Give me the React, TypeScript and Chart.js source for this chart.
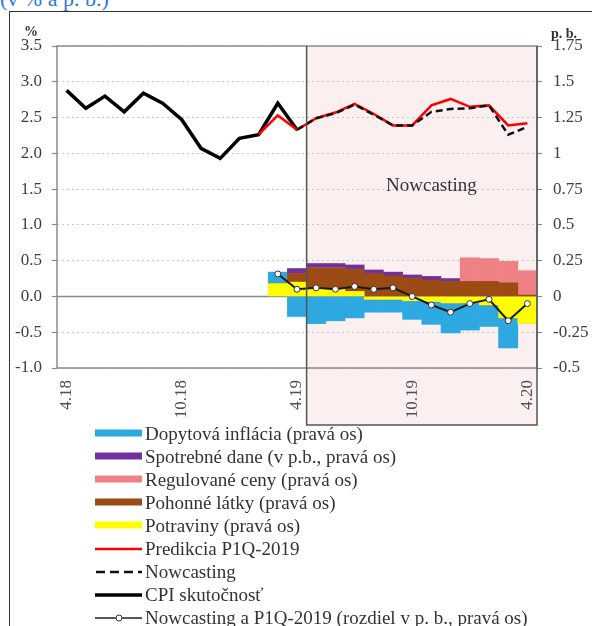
import React, { useEffect, useRef } from 'react';
import { Chart, registerables } from 'chart.js';
Chart.register(...registerables);

const categories = ['4.18','5.18','6.18','7.18','8.18','9.18','10.18','11.18','12.18','1.19','2.19','3.19','4.19','5.19','6.19','7.19','8.19','9.19','10.19','11.19','12.19','1.20','2.20','3.20','4.20'];
const xTickLabels = ['4.18','10.18','4.19','10.19','4.20'];
const leftTickLabels = ['-1.0','-0.5','0.0','0.5','1.0','1.5','2.0','2.5','3.0','3.5'];
const rightTickLabels = ['-0.5','-0.25','0','0.25','0.5','0.75','1','1.25','1.5','1.75'];
const nowcastStart = '5.19';
const nowcastTextAt = '11.19';

const N = null;
// left axis (%)
const cpiActual = [2.88,2.63,2.80,2.58,2.84,2.70,2.47,2.07,1.93,2.21,2.26,2.70,2.33,N,N,N,N,N,N,N,N,N,N,N,N];
const prediction = [N,N,N,N,N,N,N,N,N,N,2.26,2.53,2.33,2.49,2.57,2.69,2.55,2.39,2.39,2.67,2.76,2.65,2.67,2.39,2.42];
const nowcast = [N,N,N,N,N,N,N,N,N,N,N,N,2.33,2.49,2.56,2.68,2.54,2.39,2.39,2.58,2.62,2.63,2.67,2.26,2.37];
// right axis (p. b.)
const difference = [N,N,N,N,N,N,N,N,N,N,N,0.157,0.05,0.06,0.05,0.07,0.05,0.06,0.0,-0.06,-0.11,-0.05,-0.02,-0.17,-0.05];
const food = [N,N,N,N,N,N,N,N,N,N,N,0.09,0.10,0.05,0.05,0.035,-0.02,-0.02,-0.03,-0.035,-0.045,-0.045,-0.06,-0.15,-0.19];
const fuel = [N,N,N,N,N,N,N,N,N,N,N,0,0.06,0.15,0.15,0.155,0.16,0.145,0.13,0.115,0.105,0.105,0.105,0.095,0.01];
const regulated = [N,N,N,N,N,N,N,N,N,N,N,0,0,0,0,0,0,0,0,0,0,0.165,0.16,0.15,0.17];
const excise = [N,N,N,N,N,N,N,N,N,N,N,0,0.035,0.03,0.03,0.03,0.025,0.025,0.02,0.025,0.02,0,0,0,0];
const demand = [N,N,N,N,N,N,N,N,N,N,N,0.08,-0.14,-0.19,-0.17,-0.15,-0.09,-0.09,-0.13,-0.16,-0.21,-0.19,-0.15,-0.21,0];

const seriesLabels = [
  'Dopytová inflácia (pravá os)',
  'Spotrebné dane (v p.b., pravá os)',
  'Regulované ceny (pravá os)',
  'Pohonné látky (pravá os)',
  'Potraviny (pravá os)',
  'Predikcia P1Q-2019',
  'Nowcasting',
  'CPI skutočnosť',
  'Nowcasting a P1Q-2019 (rozdiel v p. b., pravá os)',
];

const C = {
  blue: '#2ea8e0',
  purple: '#7030a0',
  pink: '#ef8084',
  brown: '#9c4b14',
  yellow: '#ffff00',
  red: '#ff0000',
  black: '#000000',
};

const SERIF = '"Liberation Serif", "DejaVu Serif", serif';

const nowcastPlugin = {
  id: 'nowcastBox',
  beforeDraw(chart: any) {
    const { ctx, chartArea, scales } = chart;
    const i = categories.indexOf(nowcastStart);
    const left = (scales.x.getPixelForValue(i - 1) + scales.x.getPixelForValue(i)) / 2;
    ctx.save();
    ctx.fillStyle = '#fcefef';
    ctx.fillRect(left, chartArea.top, chartArea.right - left, chartArea.bottom + 57 - chartArea.top);
    ctx.restore();
  },
  beforeDatasetsDraw(chart: any) {
    const { ctx, chartArea, scales } = chart;
    const y0 = scales.y.getPixelForValue(0);
    ctx.save();
    ctx.strokeStyle = '#8a8a8a';
    ctx.lineWidth = 1.5;
    ctx.beginPath();
    ctx.moveTo(chartArea.left, y0);
    ctx.lineTo(chartArea.right, y0);
    ctx.stroke();
    ctx.restore();
  },
  afterDraw(chart: any) {
    const { ctx, chartArea, scales } = chart;
    ctx.save();
    ctx.strokeStyle = '#8a8a8a';
    ctx.lineWidth = 1.5;
    ctx.strokeRect(chartArea.left, chartArea.top, chartArea.right - chartArea.left, chartArea.bottom - chartArea.top);
    const i = categories.indexOf(nowcastStart);
    const left = (scales.x.getPixelForValue(i - 1) + scales.x.getPixelForValue(i)) / 2;
    const bottom = chartArea.bottom + 57;
    ctx.strokeStyle = '#555555';
    ctx.lineWidth = 1.5;
    ctx.beginPath();
    ctx.moveTo(left, chartArea.top);
    ctx.lineTo(left, bottom);
    ctx.lineTo(chartArea.right, bottom);
    ctx.lineTo(chartArea.right, chartArea.top);
    ctx.stroke();
    ctx.fillStyle = '#333333';
    ctx.font = '19px ' + SERIF;
    ctx.textAlign = 'center';
    ctx.textBaseline = 'middle';
    ctx.fillText('Nowcasting', scales.x.getPixelForValue(categories.indexOf(nowcastTextAt)), scales.y.getPixelForValue(1.55));
    ctx.restore();
  },
};

function Swatch({ kind, color }: { kind: string; color?: string }) {
  return (
    <svg width={48} height={14} style={{ position: 'absolute', left: 95, top: 4.5 }}>
      {kind === 'bar' && <rect x={0} y={3.5} width={47} height={7} fill={color} />}
      {kind === 'red' && <line x1={0} y1={7} x2={47} y2={7} stroke={C.red} strokeWidth={2.5} />}
      {kind === 'dash' && <line x1={1} y1={7} x2={47} y2={7} stroke="#111" strokeWidth={2.5} strokeDasharray="9,5" />}
      {kind === 'solid' && <line x1={0} y1={7} x2={47} y2={7} stroke="#000" strokeWidth={3.5} />}
      {kind === 'diff' && (
        <g>
          <line x1={0} y1={7} x2={47} y2={7} stroke="#222" strokeWidth={1.5} />
          <circle cx={24} cy={7} r={3} fill="#fff" stroke="#333" strokeWidth={1} />
        </g>
      )}
    </svg>
  );
}

const legendKinds = [
  { kind: 'bar', color: C.blue },
  { kind: 'bar', color: C.purple },
  { kind: 'bar', color: C.pink },
  { kind: 'bar', color: C.brown },
  { kind: 'bar', color: C.yellow },
  { kind: 'red' },
  { kind: 'dash' },
  { kind: 'solid' },
  { kind: 'diff' },
];

export default function App() {
  const ref = useRef<HTMLCanvasElement>(null);

  useEffect(() => {
    if (!ref.current) return;
    const barCommon = {
      type: 'bar' as const,
      yAxisID: 'y1',
      stack: 'contrib',
      order: 10,
      barPercentage: 1,
      categoryPercentage: 1,
      borderWidth: 0,
    };
    const lineCommon = {
      type: 'line' as const,
      pointRadius: 0,
      tension: 0,
      fill: false,
      spanGaps: false,
    };
    const chart = new Chart(ref.current, {
      type: 'bar',
      data: {
        labels: categories,
        datasets: [
          { ...lineCommon, label: seriesLabels[7], data: cpiActual, yAxisID: 'y', borderColor: C.black, borderWidth: 3.5, order: 3, stack: 'l1' },
          { ...lineCommon, label: seriesLabels[5], data: prediction, yAxisID: 'y', borderColor: C.red, borderWidth: 2.5, order: 2, stack: 'l2' },
          { ...lineCommon, label: seriesLabels[6], data: nowcast, yAxisID: 'y', borderColor: '#111', borderWidth: 2.5, borderDash: [7, 4], order: 1, stack: 'l3' },
          { ...lineCommon, label: seriesLabels[8], data: difference, yAxisID: 'y1', borderColor: '#1a1a1a', borderWidth: 2, pointRadius: 3, pointBackgroundColor: '#ffffff', pointBorderColor: '#333', pointBorderWidth: 1, order: 0, stack: 'l4' },
          { ...barCommon, label: seriesLabels[4], data: food, backgroundColor: C.yellow },
          { ...barCommon, label: seriesLabels[3], data: fuel, backgroundColor: C.brown },
          { ...barCommon, label: seriesLabels[2], data: regulated, backgroundColor: C.pink },
          { ...barCommon, label: seriesLabels[1], data: excise, backgroundColor: C.purple },
          { ...barCommon, label: seriesLabels[0], data: demand, backgroundColor: C.blue },
        ] as any,
      },
      options: {
        animation: false,
        responsive: false,
        maintainAspectRatio: false,
        layout: { padding: { top: 46, left: 0, right: 0, bottom: 0 } },
        plugins: { legend: { display: false }, tooltip: { enabled: false } },
        scales: {
          x: {
            stacked: true,
            offset: true,
            grid: { display: false, drawTicks: false },
            border: { display: false },
            ticks: {
              autoSkip: false,
              maxRotation: 90,
              minRotation: 90,
              padding: 12,
              color: '#505050',
              font: { family: SERIF, size: 17 },
              callback: (_v: any, i: number) => (xTickLabels.includes(categories[i]) ? categories[i] : ''),
            },
            afterFit: (s: any) => { s.height = 62; },
          },
          y: {
            position: 'left',
            min: -1,
            max: 3.5,
            ticks: {
              stepSize: 0.5,
              padding: 10,
              color: '#404040',
              font: { family: SERIF, size: 17 },
              callback: (_v: any, i: number) => leftTickLabels[i],
            },
            grid: { color: '#c8c8c8', lineWidth: 1, tickLength: 5, tickColor: '#8a8a8a', tickWidth: 1.2 },
            border: { display: false, dash: [2, 3] },
            afterFit: (s: any) => { s.width = 57; },
          },
          y1: {
            position: 'right',
            stacked: true,
            min: -0.5,
            max: 1.75,
            ticks: {
              stepSize: 0.25,
              padding: 11,
              color: '#404040',
              font: { family: SERIF, size: 17 },
              callback: (_v: any, i: number) => rightTickLabels[i],
            },
            grid: { drawOnChartArea: false, tickLength: 5, tickColor: '#8a8a8a', tickWidth: 1.2 },
            border: { display: false },
            afterFit: (s: any) => { s.width = 55; },
          },
        },
      } as any,
      plugins: [nowcastPlugin],
    });
    return () => chart.destroy();
  }, []);

  return (
    <div style={{ position: 'fixed', left: 0, top: 0, width: 592, height: 626, overflow: 'hidden', background: '#fff' }}>
      <div style={{ position: 'absolute', left: 0, top: -12.5, fontFamily: SERIF, fontSize: 22, lineHeight: '22px', color: '#2f78d8', whiteSpace: 'nowrap' }}>
        (v % a p. b.)
      </div>
      <div style={{ position: 'absolute', left: 9, top: 11, width: 600, height: 640, borderLeft: '1.5px solid #333', borderTop: '1.5px solid #333' }} />
      <canvas ref={ref} width={592} height={430} style={{ position: 'absolute', left: 0, top: 0, width: 592, height: 430 }} />
      <div style={{ position: 'absolute', left: 24, top: 24, fontFamily: SERIF, fontWeight: 'bold', fontSize: 14, color: '#333' }}>%</div>
      <div style={{ position: 'absolute', left: 551, top: 26, fontFamily: SERIF, fontWeight: 'bold', fontSize: 14, color: '#333' }}>p. b.</div>
      {seriesLabels.map((lab, k) => (
        <div key={k} style={{ position: 'absolute', left: 0, top: 433 + k * 23.1 - 11.5, height: 23, width: 592 }}>
          <Swatch kind={legendKinds[k].kind} color={legendKinds[k].color} />
          <span style={{ position: 'absolute', left: 145, top: 0, lineHeight: '23px', fontFamily: SERIF, fontSize: 19, color: '#333', whiteSpace: 'nowrap' }}>{lab}</span>
        </div>
      ))}
    </div>
  );
}
